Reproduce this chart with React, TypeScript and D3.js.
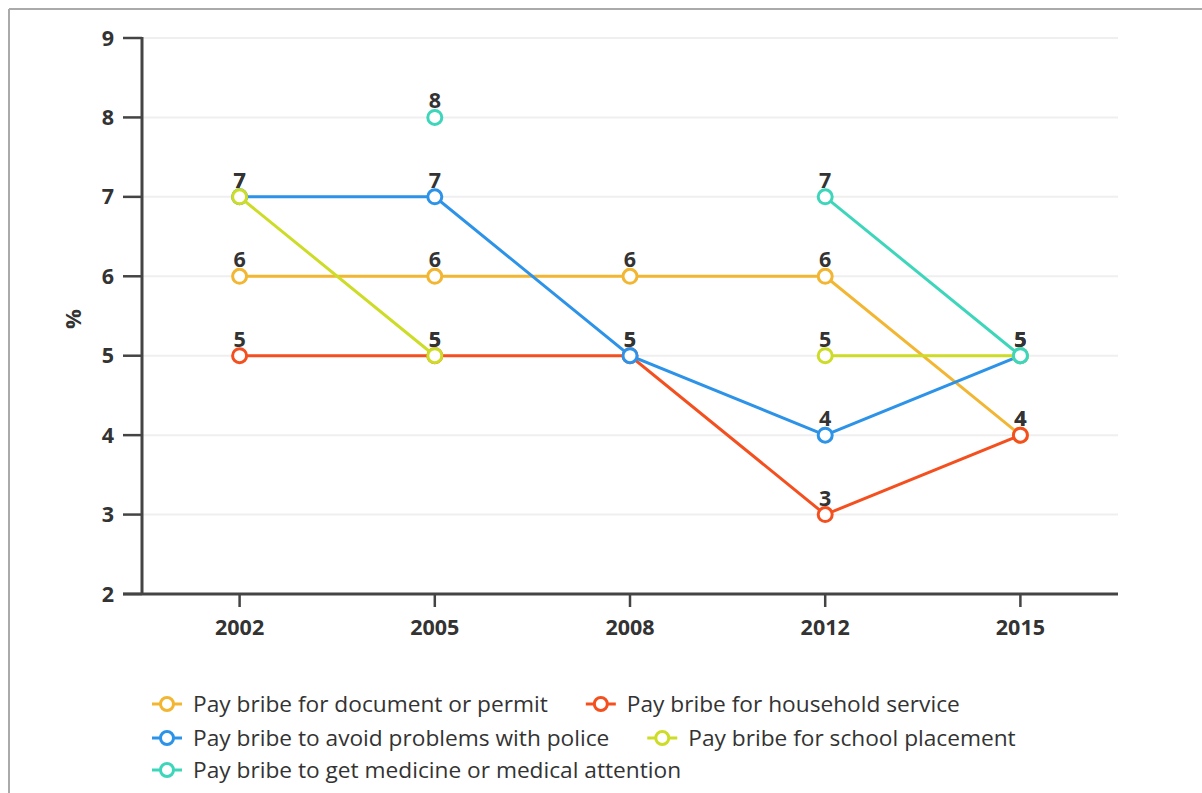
import React from "react";
import * as d3 from "d3";

const years = ["2002", "2005", "2008", "2012", "2015"];
const yTicks = [2, 3, 4, 5, 6, 7, 8, 9];

const seriesNames = [
  "Pay bribe for document or permit",
  "Pay bribe for household service",
  "Pay bribe to avoid problems with police",
  "Pay bribe for school placement",
  "Pay bribe to get medicine or medical attention",
];
const seriesColors = ["#f2b632", "#f4501f", "#2c93e8", "#cddc26", "#3ed6bb"];

const documentPermit: (number | null)[] = [6, 6, 6, 6, 4];
const householdService: (number | null)[] = [5, 5, 5, 3, 4];
const police: (number | null)[] = [7, 7, 5, 4, 5];
const schoolPlacement: (number | null)[] = [7, 5, null, 5, 5];
const medicine: (number | null)[] = [null, 8, null, 7, 5];

const seriesValues = [documentPermit, householdService, police, schoolPlacement, medicine];

const W = 1202;
const H = 793;
const left = 142;
const right = 1118;
const top = 38;
const bottom = 594;
const FONT = "'Open Sans', 'Noto Sans', sans-serif";
const TEXT = "#333333";

function measure(text: string, font: string): number {
  const c = document.createElement("canvas");
  const ctx = c.getContext("2d");
  if (!ctx) return text.length * 11;
  ctx.font = font;
  return ctx.measureText(text).width;
}

export default function App() {
  const x = d3.scaleBand<string>().domain(years).range([left, right]).paddingInner(0).paddingOuter(0);
  const cx = (y: string) => (x(y) as number) + x.bandwidth() / 2;
  const y = d3.scaleLinear().domain([2, 9]).range([bottom, top]);

  const line = d3
    .line<{ year: string; v: number | null }>()
    .defined((d) => d.v !== null)
    .x((d) => cx(d.year))
    .y((d) => y(d.v as number));

  // legend flow layout
  const legendFont = `22.7px ${FONT}`;
  const legendStartX = 152;
  const legendMaxX = 1100;
  const rowYs = [704, 738, 770];
  const items: { name: string; color: string; x: number; y: number }[] = [];
  let lx = legendStartX;
  let row = 0;
  seriesNames.forEach((name, i) => {
    const w = 41 + measure(name, legendFont);
    if (lx + w > legendMaxX && lx > legendStartX) {
      row += 1;
      lx = legendStartX;
    }
    items.push({ name, color: seriesColors[i], x: lx, y: rowYs[row] });
    lx += w + 38;
  });

  return (
    <svg
      width={W}
      height={H}
      style={{ position: "absolute", left: 0, top: 0, display: "block", background: "#fff" }}
    >
      {/* frame */}
      <line x1={9} y1={9} x2={W} y2={9} stroke="#aaaaaa" strokeWidth={2} />
      <line x1={9} y1={9} x2={9} y2={H} stroke="#aaaaaa" strokeWidth={2} />

      {/* grid */}
      {yTicks.map((t) => (
        <line key={"g" + t} x1={left} x2={right} y1={y(t)} y2={y(t)} stroke="#efefef" strokeWidth={2} />
      ))}

      {/* y axis */}
      {yTicks.map((t) => (
        <g key={"yt" + t}>
          <line x1={123} x2={left} y1={y(t)} y2={y(t)} stroke="#444" strokeWidth={2.5} />
          <text
            x={114}
            y={y(t)}
            dy="0.35em"
            textAnchor="end"
            fontFamily={FONT}
            fontWeight={700}
            fontSize={21.5}
            fill={TEXT}
          >
            {t}
          </text>
        </g>
      ))}
      <line x1={left} x2={left} y1={top - 1} y2={bottom} stroke="#444" strokeWidth={3} />
      <line x1={123} x2={right} y1={bottom} y2={bottom} stroke="#444" strokeWidth={3} />
      <text
        transform={`translate(73, ${(top + bottom) / 2 + 3}) rotate(-90)`}
        textAnchor="middle"
        dy="0.35em"
        fontFamily={FONT}
        fontWeight={700}
        fontSize={22}
        fill={TEXT}
      >
        %
      </text>

      {/* x axis */}
      {years.map((yr) => (
        <g key={"xt" + yr}>
          <line x1={cx(yr)} x2={cx(yr)} y1={bottom} y2={bottom + 13} stroke="#444" strokeWidth={2.5} />
          <text
            x={cx(yr)}
            y={635}
            textAnchor="middle"
            fontFamily={FONT}
            fontWeight={700}
            fontSize={21.5}
            fill={TEXT}
          >
            {yr}
          </text>
        </g>
      ))}

      {/* series */}
      {seriesValues.map((vals, i) => {
        const data = years.map((yr, j) => ({ year: yr, v: vals[j] }));
        return (
          <g key={"s" + i}>
            <path d={line(data) || ""} fill="none" stroke={seriesColors[i]} strokeWidth={3} />
            {data
              .filter((d) => d.v !== null)
              .map((d) => (
                <circle
                  key={d.year}
                  cx={cx(d.year)}
                  cy={y(d.v as number)}
                  r={7}
                  fill="#fff"
                  stroke={seriesColors[i]}
                  strokeWidth={3}
                />
              ))}
          </g>
        );
      })}

      {/* value labels */}
      {seriesValues.map((vals, i) => (
        <g key={"l" + i}>
          {years.map((yr, j) =>
            vals[j] === null ? null : (
              <text
                key={yr}
                x={cx(yr)}
                y={y(vals[j] as number) - 9}
                textAnchor="middle"
                fontFamily={FONT}
                fontWeight={700}
                fontSize={21.5}
                fill={TEXT}
              >
                {vals[j]}
              </text>
            )
          )}
        </g>
      ))}

      {/* legend */}
      {items.map((it) => (
        <g key={it.name}>
          <line x1={it.x} x2={it.x + 30} y1={it.y} y2={it.y} stroke={it.color} strokeWidth={3} />
          <circle cx={it.x + 15} cy={it.y} r={6.5} fill="#fff" stroke={it.color} strokeWidth={3} />
          <text
            x={it.x + 41}
            y={it.y}
            dy="0.35em"
            fontFamily={FONT}
            fontSize={22.7}
            fill={TEXT}
          >
            {it.name}
          </text>
        </g>
      ))}
    </svg>
  );
}
